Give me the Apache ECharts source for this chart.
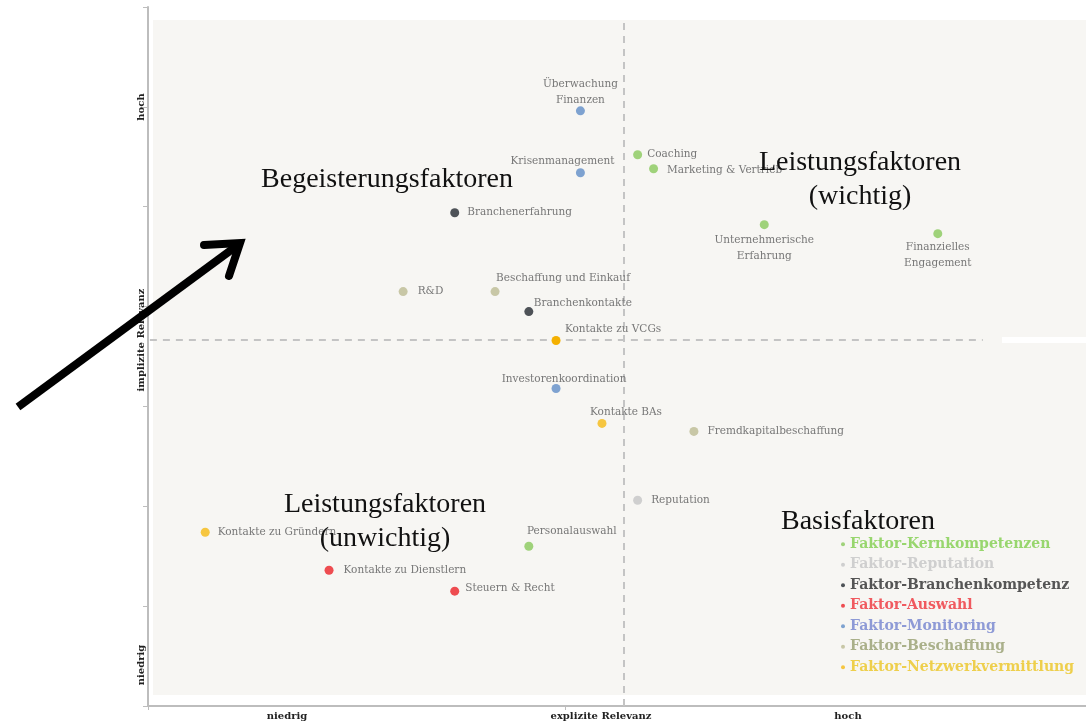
<!DOCTYPE html>
<html>
<head>
<meta charset="utf-8">
<script src="https://cdn.jsdelivr.net/npm/echarts@6/dist/echarts.min.js"></script>
<style>
  html, body { margin: 0; padding: 0; background: #fff; }
  #chart { width: 1086px; height: 724px; }
</style>
</head>
<body>
<div id="chart"></div>
<script>
// Faktoren (x = explizite Relevanz, y = implizite Relevanz, 0-100 / 0-70)
var groups = ['Faktor-Kernkompetenzen', 'Faktor-Reputation', 'Faktor-Branchenkompetenz',
  'Faktor-Auswahl', 'Faktor-Monitoring', 'Faktor-Beschaffung', 'Faktor-Netzwerkvermittlung'];

var kernNames = ['Coaching', 'Marketing & Vertrieb', 'Unternehmerische\nErfahrung', 'Finanzielles\nEngagement', 'Personalauswahl'];
var kernX = [52.2, 53.9, 65.7, 84.2, 40.6];
var kernY = [55.2, 53.8, 48.2, 47.3, 16.0];

var repNames = ['Reputation'];
var repX = [52.2];
var repY = [20.6];

var branNames = ['Branchenerfahrung', 'Branchenkontakte'];
var branX = [32.7, 40.6];
var branY = [49.4, 39.5];

var auswNames = ['Kontakte zu Dienstlern', 'Steuern & Recht'];
var auswX = [19.3, 32.7];
var auswY = [13.6, 11.5];

var monNames = ['Überwachung\nFinanzen', 'Krisenmanagement', 'Investorenkoordination'];
var monX = [46.1, 46.1, 43.5];
var monY = [59.6, 53.4, 31.8];

var beschNames = ['R&D', 'Beschaffung und Einkauf', 'Fremdkapitalbeschaffung'];
var beschX = [27.2, 37.0, 58.2];
var beschY = [41.5, 41.5, 27.5];

var netzNames = ['Kontakte zu VCGs', 'Kontakte BAs', 'Kontakte zu Gründern'];
var netzX = [43.5, 48.4, 6.1];
var netzY = [36.6, 28.3, 17.4];

// Trennlinien der Quadranten
var splitX = 50.7;
var splitY = 36.65;

var dotColors = ['#9fd27a', '#cfcfcf', '#4e5257', '#ee4c50', '#7ea2d0', '#c8c7a6', '#f6c640'];
var legendColors = ['#98d66e', '#cfcfcf', '#555555', '#f05a5f', '#8e9ad6', '#aab08a', '#eecf4c'];

var serif = "'Liberation Serif', 'DejaVu Serif', serif";
var wideSerif = "'DejaVu Serif', 'Liberation Serif', serif";

// wo das Label am Punkt steht
var labelPos = {
  'Coaching': { position: 'right', distance: 5, offset: [0, -1] },
  'Marketing & Vertrieb': { position: 'right', distance: 9, offset: [0, 1] },
  'Unternehmerische\nErfahrung': { position: 'bottom', distance: 3 },
  'Finanzielles\nEngagement': { position: 'bottom', distance: 1 },
  'Personalauswahl': { position: 'top', distance: 2, offset: [43, 0] },
  'Reputation': { position: 'right', distance: 9 },
  'Branchenerfahrung': { position: 'right', distance: 8 },
  'Branchenkontakte': { position: 'top', distance: -4, offset: [54, 0] },
  'Kontakte zu Dienstlern': { position: 'right', distance: 10 },
  'Steuern & Recht': { position: 'right', distance: 6, offset: [0, -3] },
  'Überwachung\nFinanzen': { position: 'top', distance: -2 },
  'Krisenmanagement': { position: 'top', distance: -1, offset: [-18, 0] },
  'Investorenkoordination': { position: 'top', distance: -3, offset: [8, 0] },
  'R&D': { position: 'right', distance: 10 },
  'Beschaffung und Einkauf': { position: 'top', distance: 1, offset: [68, 0] },
  'Fremdkapitalbeschaffung': { position: 'right', distance: 9 },
  'Kontakte zu VCGs': { position: 'top', distance: -1, offset: [57, 0] },
  'Kontakte BAs': { position: 'top', distance: -1, offset: [24, 0] },
  'Kontakte zu Gründern': { position: 'right', distance: 8 }
};

function points(names, xs, ys) {
  return names.map(function (n, i) {
    var p = labelPos[n] || {};
    var item = {
      name: n,
      value: [xs[i], ys[i]],
      label: {
        show: true,
        formatter: n,
        position: p.position || 'right',
        distance: p.distance !== undefined ? p.distance : 5,
        offset: p.offset || [0, 0],
        align: (p.position === 'top' || p.position === 'bottom') ? 'center' : 'left',
        color: '#777777',
        fontFamily: wideSerif,
        fontSize: 10.5,
        lineHeight: 16
      }
    };
    if (n === 'Kontakte zu VCGs') item.itemStyle = { color: '#f4b000' };
    return item;
  });
}

var seriesData = [
  points(kernNames, kernX, kernY),
  points(repNames, repX, repY),
  points(branNames, branX, branY),
  points(auswNames, auswX, auswY),
  points(monNames, monX, monY),
  points(beschNames, beschX, beschY),
  points(netzNames, netzX, netzY)
];

var series = groups.map(function (g, i) {
  return {
    name: g,
    type: 'scatter',
    symbolSize: 9,
    itemStyle: { color: dotColors[i], opacity: 1 },
    data: seriesData[i],
    z: 5
  };
});

series[0].markLine = {
  silent: true,
  symbol: 'none',
  label: { show: false },
  lineStyle: { color: '#c4c4c4', type: [7, 6], width: 2 },
  data: [
    [{ coord: [splitX, 0] }, { coord: [splitX, 68.7] }],
    [{ coord: [0.2, splitY] }, { coord: [89, splitY] }]
  ]
};

var chart = echarts.init(document.getElementById('chart'));

var bigText = { fill: '#111', fontFamily: serif, fontSize: 28, lineHeight: 34, textAlign: 'center', textVerticalAlign: 'middle' };
var axisText = { fill: '#222', fontFamily: wideSerif, fontSize: 10, fontWeight: 'bold', textAlign: 'center', textVerticalAlign: 'middle' };

function txt(x, y, s, style, rot) {
  return { type: 'text', x: x, y: y, rotation: rot || 0, z: 10, style: Object.assign({ text: s }, style) };
}

chart.setOption({
  backgroundColor: '#ffffff',
  animation: false,
  grid: { left: 148, right: 0, top: 7, bottom: 18 },
  xAxis: {
    type: 'value', min: 0, max: 100, interval: 44.5,
    axisLine: { lineStyle: { color: '#bdbdbd', width: 2 } },
    axisTick: { show: true, length: 4, customValues: [0, 44.5], lineStyle: { color: '#bdbdbd' } },
    axisLabel: { show: false },
    splitLine: { show: false }
  },
  yAxis: {
    type: 'value', min: 0, max: 70, interval: 10,
    axisLine: { show: true, lineStyle: { color: '#bdbdbd', width: 2 } },
    axisTick: { show: true, length: 5, lineStyle: { color: '#bdbdbd' } },
    axisLabel: { show: false },
    splitLine: { show: false }
  },
  legend: {
    orient: 'vertical',
    left: 836, top: 532,
    icon: 'circle', itemWidth: 4, itemHeight: 4, itemGap: 6,
    selectedMode: false,
    data: groups.map(function (g, i) {
      return {
        name: g,
        textStyle: {
          color: legendColors[i], fontFamily: wideSerif, fontSize: 14,
          fontWeight: 'bold', lineHeight: 14.5
        }
      };
    })
  },
  graphic: [
    // Hintergrund
    { type: 'rect', shape: { x: 153, y: 20, width: 933, height: 675 }, style: { fill: '#f7f6f3' }, z: -10, silent: true },
    { type: 'rect', shape: { x: 1002, y: 337, width: 84, height: 6 }, style: { fill: '#ffffff' }, z: -9, silent: true },
    // Quadranten
    txt(387, 180, 'Begeisterungsfaktoren', bigText),
    txt(860, 180, 'Leistungsfaktoren\n(wichtig)', bigText),
    txt(385, 522, 'Leistungsfaktoren\n(unwichtig)', bigText),
    txt(858, 522, 'Basisfaktoren', bigText),
    // Achsenbeschriftungen
    txt(287, 716, 'niedrig', axisText),
    txt(601, 716, 'explizite Relevanz', axisText),
    txt(848, 716, 'hoch', axisText),
    txt(141, 107, 'hoch', axisText, Math.PI / 2),
    txt(141, 340, 'implizite Relevanz', axisText, Math.PI / 2),
    txt(141, 665, 'niedrig', axisText, Math.PI / 2),
    // Pfeil
    {
      type: 'polyline', z: 20, silent: true,
      shape: { points: [[18, 407], [238, 245]] },
      style: { stroke: '#000', lineWidth: 8, lineCap: 'butt' }
    },
    {
      type: 'polyline', z: 20, silent: true,
      shape: { points: [[204, 245], [240, 243], [229, 276]] },
      style: { stroke: '#000', lineWidth: 8, fill: null, lineJoin: 'miter', lineCap: 'round' }
    }
  ],
  series: series
});
</script>
</body>
</html>
